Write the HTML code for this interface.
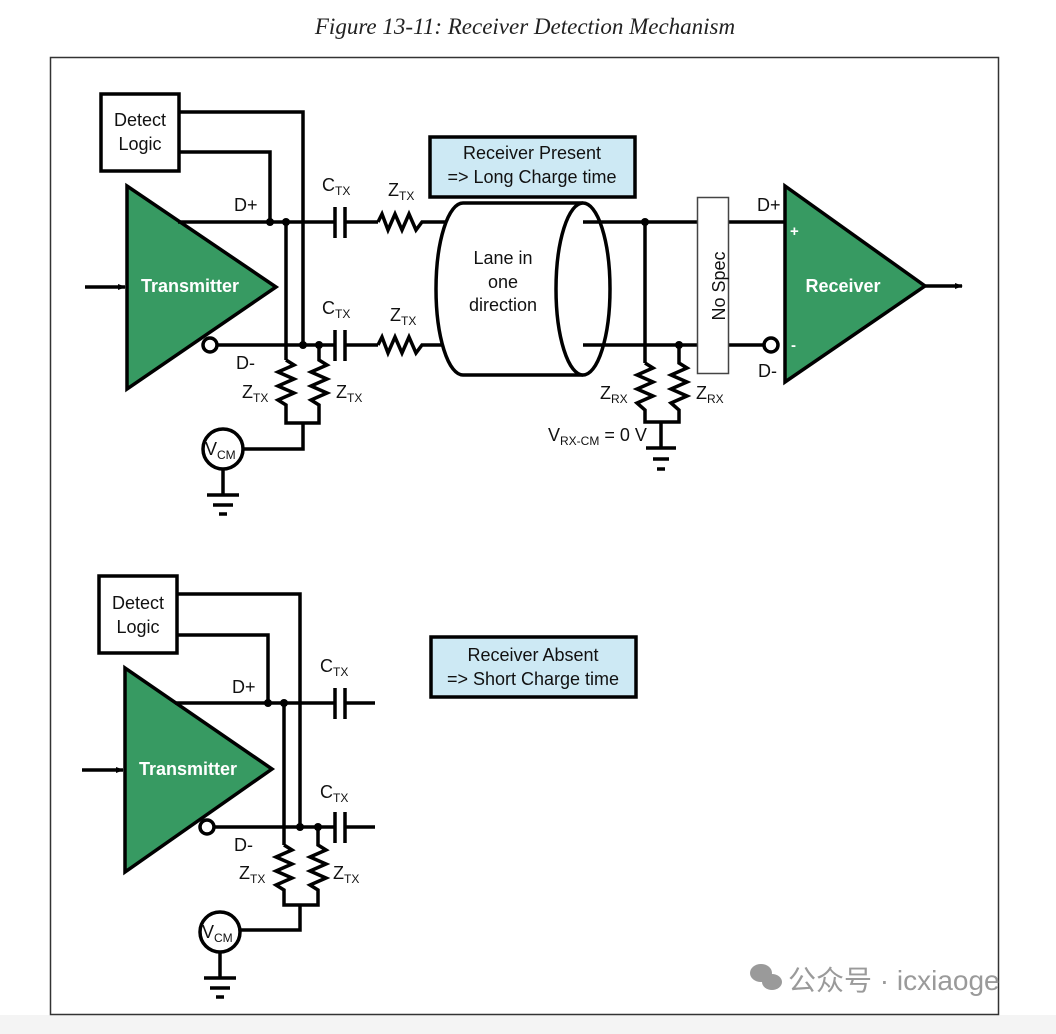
<!DOCTYPE html>
<html><head><meta charset="utf-8"><style>
html,body{margin:0;padding:0;background:#fff;}
body{width:1056px;height:1034px;overflow:hidden;position:relative;}
svg{position:absolute;left:0;top:0;}
text{font-family:"Liberation Sans",sans-serif;}
</style></head><body>
<svg width="1056" height="1034" viewBox="0 0 1056 1034">
<defs>
<marker id="ar" markerWidth="8" markerHeight="8" refX="7" refY="4" orient="auto" markerUnits="userSpaceOnUse"><path d="M0,1 L8,4 L0,7 z" fill="#000"/></marker>
</defs>
<rect x="0" y="1015" width="1056" height="19" fill="#f4f4f4"/>
<text x="525" y="34" text-anchor="middle" font-style="italic" font-size="23" fill="#222" style="font-family:'Liberation Serif',serif">Figure 13-11: Receiver Detection Mechanism</text>
<rect x="50.5" y="57.5" width="948" height="957" fill="none" stroke="#333" stroke-width="1.5"/>

<g stroke="#000" stroke-width="3.5" fill="none">
<!-- TOP -->
<rect x="101" y="94" width="78" height="77" fill="#fff"/>
<polyline points="179,112 303,112 303,345"/>
<polyline points="179,152 270,152 270,222"/>
<line x1="85" y1="287" x2="125" y2="287" marker-end="url(#ar)"/>
<polygon points="127,186 127,389 276,287" fill="#379a62"/>
<line x1="178" y1="222" x2="335" y2="222"/>
<line x1="345" y1="222" x2="378" y2="222"/>
<polyline points="378,222 382,214 388,230 395,214 402,230 409,214 416,230 422,222 460,222"/>
<line x1="217" y1="345" x2="335" y2="345"/>
<line x1="345" y1="345" x2="378" y2="345"/>
<polyline points="378,345 382,337 388,353 395,337 402,353 409,337 416,353 422,345 460,345"/>
<line x1="335" y1="207" x2="335" y2="238"/><line x1="345" y1="207" x2="345" y2="238"/>
<line x1="335" y1="330" x2="335" y2="361"/><line x1="345" y1="330" x2="345" y2="361"/>
<line x1="286" y1="222" x2="286" y2="360"/>
<polyline points="286,360 294,365 278,372 294,379 278,386 294,393 278,400 286,405 286,423 319,423 319,405 311,400 327,393 311,386 327,379 311,372 327,365 319,360 319,345"/>
<polyline points="303,423 303,449 243,449"/>
<circle cx="210" cy="345" r="7" fill="#fff"/>
<circle cx="223" cy="449" r="20" fill="#fff"/>
<line x1="223" y1="469" x2="223" y2="495"/>
<line x1="207" y1="495" x2="239" y2="495"/>
<line x1="213" y1="505" x2="233" y2="505"/>
<line x1="219" y1="514" x2="227" y2="514"/>
<!-- cylinder -->
<path d="M583,203 L463,203 A27,86 0 0 0 463,375 L583,375" fill="#fff"/>
<ellipse cx="583" cy="289" rx="27" ry="86" fill="#fff"/>
<line x1="583" y1="222" x2="697" y2="222"/>
<line x1="583" y1="345" x2="697" y2="345"/>
<line x1="729" y1="222" x2="785" y2="222"/>
<line x1="729" y1="345" x2="764" y2="345"/>
<line x1="645" y1="222" x2="645" y2="363"/>
<polyline points="645,363 653,368 637,375 653,382 637,389 653,396 637,403 645,410 645,422 679,422 679,410 671,403 687,396 671,389 687,382 671,375 687,368 679,363 679,345"/>
<line x1="661" y1="422" x2="661" y2="448"/>
<line x1="646" y1="448" x2="676" y2="448"/>
<line x1="653" y1="459" x2="669" y2="459"/>
<line x1="657" y1="469" x2="665" y2="469"/>
<polygon points="785,186 785,382 925,286" fill="#379a62"/>
<line x1="925" y1="286" x2="962" y2="286" marker-end="url(#ar)"/>
<circle cx="771" cy="345" r="7" fill="#fff"/>
<rect x="430" y="137" width="205" height="60" fill="#cde9f4"/>

<!-- BOTTOM -->
<rect x="99" y="576" width="78" height="77" fill="#fff"/>
<polyline points="177,594 300,594 300,827"/>
<polyline points="177,635 268,635 268,703"/>
<line x1="82" y1="770" x2="123" y2="770" marker-end="url(#ar)"/>
<polygon points="125,668 125,872 272,769" fill="#379a62"/>
<line x1="175" y1="703" x2="335" y2="703"/>
<line x1="345" y1="703" x2="375" y2="703"/>
<line x1="214" y1="827" x2="335" y2="827"/>
<line x1="345" y1="827" x2="375" y2="827"/>
<line x1="335" y1="688" x2="335" y2="719"/><line x1="345" y1="688" x2="345" y2="719"/>
<line x1="335" y1="812" x2="335" y2="843"/><line x1="345" y1="812" x2="345" y2="843"/>
<line x1="284" y1="703" x2="284" y2="845"/>
<polyline points="284,845 292,850 276,857 292,864 276,871 292,878 276,885 284,890 284,905 318,905 318,890 310,885 326,878 310,871 326,864 310,857 326,850 318,845 318,827"/>
<polyline points="300,905 300,930 240,930"/>
<circle cx="207" cy="827" r="7" fill="#fff"/>
<circle cx="220" cy="932" r="20" fill="#fff"/>
<line x1="220" y1="952" x2="220" y2="978"/>
<line x1="204" y1="978" x2="236" y2="978"/>
<line x1="210" y1="988" x2="230" y2="988"/>
<line x1="216" y1="997" x2="224" y2="997"/>
<rect x="431" y="637" width="205" height="60" fill="#cde9f4"/>
</g>
<rect x="697.5" y="197.5" width="31" height="176" fill="#fff" stroke="#444" stroke-width="1.5"/>

<g fill="#000">
<circle cx="270" cy="222" r="4"/><circle cx="286" cy="222" r="4"/><circle cx="303" cy="345" r="4"/><circle cx="319" cy="345" r="4"/>
<circle cx="645" cy="222" r="4"/><circle cx="679" cy="345" r="4"/>
<circle cx="268" cy="703" r="4"/><circle cx="284" cy="703" r="4"/><circle cx="300" cy="827" r="4"/><circle cx="318" cy="827" r="4"/>
</g>

<g font-size="18" fill="#111">
<text x="140" y="126" text-anchor="middle">Detect</text><text x="140" y="150" text-anchor="middle">Logic</text>
<text x="138" y="609" text-anchor="middle">Detect</text><text x="138" y="633" text-anchor="middle">Logic</text>
<text x="532" y="159" text-anchor="middle">Receiver Present</text>
<text x="532" y="183" text-anchor="middle">=&gt; Long Charge time</text>
<text x="533" y="661" text-anchor="middle">Receiver Absent</text>
<text x="533" y="685" text-anchor="middle">=&gt; Short Charge time</text>
<text x="503" y="264" text-anchor="middle">Lane in</text>
<text x="503" y="288" text-anchor="middle">one</text>
<text x="503" y="311" text-anchor="middle">direction</text>
<text x="720" y="286" text-anchor="middle" transform="rotate(-90 720 286)" dominant-baseline="middle">No Spec</text>
<text x="234" y="211">D+</text><text x="236" y="369">D-</text>
<text x="232" y="693">D+</text><text x="234" y="851">D-</text>
<text x="757" y="211">D+</text><text x="758" y="377">D-</text>
<text x="322" y="191">C<tspan font-size="12" dy="4">TX</tspan></text>
<text x="388" y="196">Z<tspan font-size="12" dy="4">TX</tspan></text>
<text x="322" y="314">C<tspan font-size="12" dy="4">TX</tspan></text>
<text x="390" y="321">Z<tspan font-size="12" dy="4">TX</tspan></text>
<text x="242" y="398">Z<tspan font-size="12" dy="4">TX</tspan></text>
<text x="336" y="398">Z<tspan font-size="12" dy="4">TX</tspan></text>
<text x="320" y="672">C<tspan font-size="12" dy="4">TX</tspan></text>
<text x="320" y="798">C<tspan font-size="12" dy="4">TX</tspan></text>
<text x="239" y="879">Z<tspan font-size="12" dy="4">TX</tspan></text>
<text x="333" y="879">Z<tspan font-size="12" dy="4">TX</tspan></text>
<text x="600" y="399">Z<tspan font-size="12" dy="4">RX</tspan></text>
<text x="696" y="399">Z<tspan font-size="12" dy="4">RX</tspan></text>
<text x="548" y="441">V<tspan font-size="12" dy="4">RX-CM</tspan><tspan dy="-4"> = 0 V</tspan></text>
<text x="205" y="455">V<tspan font-size="12" dy="4">CM</tspan></text>
<text x="202" y="938">V<tspan font-size="12" dy="4">CM</tspan></text>
</g>
<g font-size="18" font-weight="bold" fill="#fff">
<text x="190" y="292" text-anchor="middle">Transmitter</text>
<text x="188" y="775" text-anchor="middle">Transmitter</text>
<text x="843" y="292" text-anchor="middle">Receiver</text>
<text x="790" y="236" font-size="15">+</text>
<text x="791" y="350" font-size="15">-</text>
</g>
<g fill="#9a9a9a">
<ellipse cx="761" cy="973" rx="11" ry="9"/><ellipse cx="772" cy="982" rx="10" ry="8"/>
<text x="788" y="990" font-size="28" style="font-family:'Liberation Sans','Noto Sans CJK SC',sans-serif">公众号 · icxiaoge</text>
</g>
</svg>
</body></html>
